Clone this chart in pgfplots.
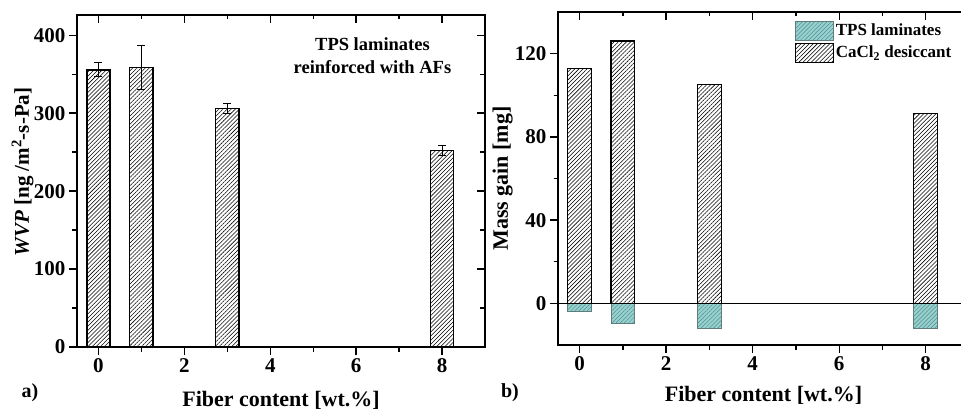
\documentclass[border=0pt]{standalone}
\usepackage{fontspec}
\setmainfont{Liberation Serif}
\usepackage{pgfplots}
\pgfplotsset{compat=1.18}
\usetikzlibrary{patterns.meta}

\definecolor{tpsfill}{RGB}{152,210,208}
\definecolor{tpsedge}{RGB}{95,125,125}
\definecolor{tpshatch}{RGB}{80,140,140}

\pgfplotsset{
  panel/.style={
    scale only axis, xmin=-0.5, xmax=9,
    xtick={0,2,4,6,8}, minor x tick num=1, minor y tick num=1,
    axis line style={line width=1.6pt},
    major tick length=8pt, minor tick length=4.5pt,
    every tick/.style={black, line width=1.4pt},
    tick label style={font=\bfseries\fontsize{21}{21}\selectfont},
    /pgf/number format/assume math mode=true,
    label style={font=\bfseries\fontsize{22}{22}\selectfont},
    tick align=outside, xtick pos=lower, ytick pos=lower,
  },
  mirror/.style={
    scale only axis, xmin=-0.5, xmax=9,
    xtick={0,2,4,6,8}, minor x tick num=1, minor y tick num=1,
    axis line style={line width=1.6pt},
    major tick length=8pt, minor tick length=4.5pt,
    every tick/.style={black, line width=1.4pt},
    tick align=inside, xtick pos=upper, ytick pos=upper,
    xticklabels={}, yticklabels={},
  },
  hatchbar/.style={pattern={Lines[angle=45,distance=2.9pt,line width=0.55pt]}},
}

\begin{document}
\begin{tikzpicture}
% ---- a) WVP ----
\begin{axis}[panel, at={(77pt,63pt)}, anchor=south west,
  width=408pt, height=332pt, ymin=0, ymax=426,
  ytick={0,100,200,300,400},
  xlabel={Fiber content [wt.\%]},
  ylabel={\textit{WVP} [ng /m\textsuperscript{2}-s-Pa]},
  xlabel style={at={(axis description cs:0.5,-0.178)}, anchor=base},
  ylabel style={at={(axis description cs:-0.118,0.527)}, anchor=base,
    font=\bfseries\fontsize{21}{21}\selectfont},
]
\addplot[ybar, bar width=0.54, draw=black, line width=1.3pt, hatchbar,
  error bars/.cd, y dir=both, y explicit,
  error bar style={line width=1pt, black},
  error mark options={rotate=90, mark size=4pt, line width=1pt, black}]
  coordinates {(0,355.6) +- (0,9) (1,358.6) +- (0,28.2) (3,306.4) +- (0,6.5) (8,252.1) +- (0,6)};
\node[align=center, font=\bfseries\fontsize{18.5}{22.4}\selectfont] at (axis cs:6.38,374)
  {TPS laminates\\reinforced with AFs};
\end{axis}
\begin{axis}[mirror, at={(77pt,63pt)}, anchor=south west,
  width=408pt, height=332pt, ymin=0, ymax=426, ytick={0,100,200,300,400}]
\end{axis}

% ---- b) mass gain ----
\begin{axis}[panel, at={(558pt,65pt)}, anchor=south west,
  width=411pt, height=333pt, ymin=-20, ymax=140,
  ytick={0,40,80,120},
  xlabel={Fiber content [wt.\%]},
  ylabel={Mass gain [mg]},
  xlabel style={at={(axis description cs:0.5,-0.171)}, anchor=base},
  ylabel style={at={(axis description cs:-0.122,0.5)}, anchor=base},
  legend cell align=left,
  legend image code/.code={\draw[#1] (0pt,-9.5pt) rectangle (38pt,9.5pt);},
  legend style={at={(axis description cs:0.575,0.975)}, anchor=north west,
    draw=none, fill=none, inner sep=0pt, row sep=2pt,
    font=\bfseries\fontsize{17}{17}\selectfont},
]
\addplot[ybar, bar width=0.55, draw=tpsedge, line width=1pt, fill=tpsfill,
  postaction={pattern={Lines[angle=45,distance=2.9pt,line width=0.5pt]}, pattern color=tpshatch}]
  coordinates {(0,-3.7) (1,-9.9) (3,-12.3) (8,-12.3)};
\addlegendentry{TPS laminates}
\addplot[ybar, bar width=0.55, draw=black, line width=1.3pt, hatchbar]
  coordinates {(0,112.8) (1,126.1) (3,105.3) (8,91.2)};
\addlegendentry{CaCl\textsubscript{2} desiccant}
\addplot[black, line width=1.6pt, forget plot] coordinates {(-0.5,0) (9,0)};
\end{axis}
\begin{axis}[mirror, at={(558pt,65pt)}, anchor=south west,
  width=411pt, height=333pt, ymin=-20, ymax=140, ytick={0,40,80,120}]
\end{axis}

\node[anchor=base, font=\bfseries\fontsize{20}{20}\selectfont] at (30pt,13pt) {a)};
\node[anchor=base, font=\bfseries\fontsize{20}{20}\selectfont] at (510pt,13pt) {b)};

\pgfresetboundingbox
\useasboundingbox (0,0) rectangle (961pt,410pt);
\end{tikzpicture}
\end{document}
